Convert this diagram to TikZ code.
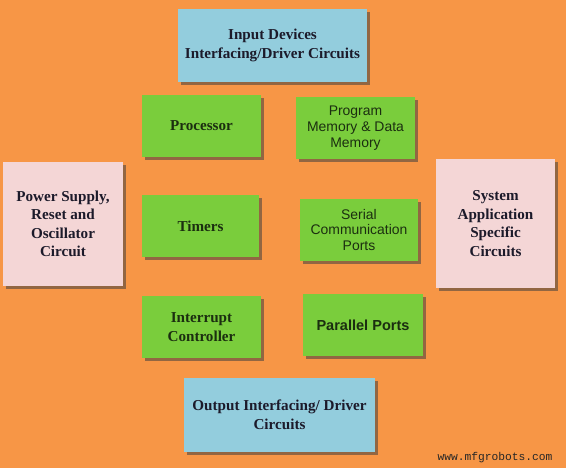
\documentclass[tikz,border=0pt]{standalone}
\usepackage{fontspec}
\setmainfont{Liberation Serif}
\setsansfont{Liberation Sans}
\setmonofont{Liberation Mono}
\usetikzlibrary{shadows}
\definecolor{bgorange}{HTML}{F79646}
\definecolor{ioblue}{HTML}{93CDDD}
\definecolor{cpugreen}{HTML}{7ACD3C}
\definecolor{sidepink}{HTML}{F4D6D6}
\definecolor{inktext}{HTML}{1C1A2A}
\definecolor{greentext}{HTML}{1B2E10}
\begin{document}
\begin{tikzpicture}
  [x=1bp,y=-1bp,
   blk/.style={align=center,inner sep=0pt,
     drop shadow={shadow xshift=3bp,shadow yshift=-3bp,opacity=.55,fill=black!75}},
   iobox/.style={blk,fill=ioblue,text=inktext,minimum height=73bp,
     font=\bfseries\fontsize{15.2}{19}\selectfont},
   cpubox/.style={blk,fill=cpugreen,text=greentext,minimum width=119bp,minimum height=62bp,
     font=\bfseries\fontsize{15.2}{19}\selectfont},
   cpusans/.style={cpubox,font=\sffamily\fontsize{14}{16}\selectfont},
   sidebox/.style={blk,fill=sidepink,text=inktext,minimum width=120bp,
     font=\bfseries\fontsize{15.2}{18.6}\selectfont}]
  \fill[bgorange] (0,0) rectangle (566,468);
  \useasboundingbox (0,0) rectangle (566,468);

  \node[iobox,minimum width=189bp] (inp) at (272.5,45.5) {Input Devices\\Interfacing/Driver Circuits};
  \node[cpubox] (proc) at (201.5,126) {Processor};
  \node[cpusans] (mem) at (355.5,128.5) {Program\\Memory \& Data\\Memory};
  \node[sidebox,minimum height=124bp] (pwr) at (63,224) {Power Supply,\\Reset and\\Oscillator\\Circuit};
  \node[sidebox,minimum width=119bp,minimum height=129bp] (sys) at (495.5,223.5) {System\\Application\\Specific\\Circuits};
  \node[cpubox,minimum width=117bp] (tim) at (200.5,226) {Timers};
  \node[cpusans,minimum width=118bp] (ser) at (359,230) {Serial\\Communication\\Ports};
  \node[cpubox] (intr) at (201.5,327) {Interrupt\\Controller};
  \node[cpubox,minimum width=120bp,font=\sffamily\bfseries\fontsize{14.6}{17}\selectfont] (par) at (363,325) {Parallel Ports};
  \node[iobox,minimum width=191bp,minimum height=74bp] (out) at (279.5,415) {Output Interfacing/ Driver\\Circuits};

  \node[text=black!85,font=\ttfamily\fontsize{11.3}{13}\selectfont,inner sep=0pt] (web) at (495,458) {www.mfgrobots.com};
\end{tikzpicture}
\end{document}
